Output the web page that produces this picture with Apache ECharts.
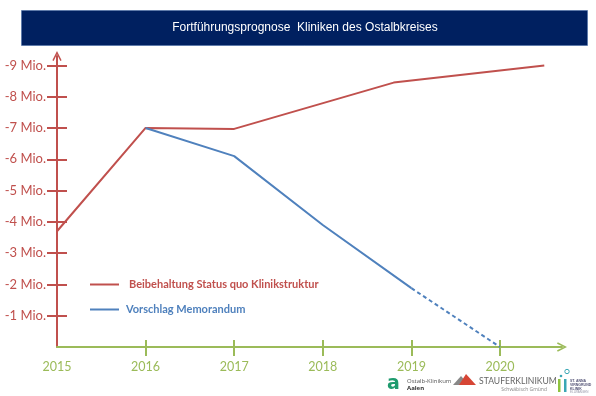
<!DOCTYPE html>
<html>
<head>
<meta charset="utf-8">
<title>Fortführungsprognose Kliniken des Ostalbkreises</title>
<script src="https://cdn.jsdelivr.net/npm/echarts@6/dist/echarts.min.js"></script>
<style>
  html,body{margin:0;padding:0;background:#fff;}
  #chart{width:596px;height:396px;}
</style>
</head>
<body>
<div id="chart"></div>
<script>
// Werte in Mio. Euro (Defizit negativ), x = Jahr
const redYears = [2015, 2016, 2017, 2018.8, 2020.5]
const redValues = [-3.7, -7.0, -6.97, -8.45, -9.0]
const blueYears = [2016, 2017, 2018, 2019, 2020]
const blueValues = [-7.0, -6.1, -3.9, -1.88, 0]
const xTickYears = [2016, 2017, 2018, 2019, 2020]
const xLabelYears = [2015, 2016, 2017, 2018, 2019, 2020]
const yTicks = [-9, -8, -7, -6, -5, -4, -3, -2, -1]
const seriesNames = ['Beibehaltung Status quo Klinikstruktur', 'Vorschlag Memorandum']
const titleText = 'Fortführungsprognose  Kliniken des Ostalbkreises'

const RED = '#c0504d'
const BLUE = '#4f81bd'
const GREEN = '#9bbb59'
const NAVY = '#002060'
const FONT = 'Lato, "Open Sans", sans-serif'
const ARROW = 'path://M0,10 L5,0 L10,10 L8.6,10.8 L5,3.4 L1.4,10.8 Z'

const pairs = (xs, ys) => xs.map((x, i) => [x, ys[i]])
const blueAll = pairs(blueYears, blueValues)
// letzter Abschnitt 2019 -> 2020 gestrichelt
const blueSolid = blueAll.slice(0, 4)
const blueDashed = blueAll.slice(3)

const xBase = {
  type: 'value',
  min: 2015,
  max: 2020.7,
  position: 'bottom',
  splitLine: { show: false }
}
const yBase = {
  type: 'value',
  min: -9.3,
  max: 0,
  inverse: true,
  position: 'left',
  splitLine: { show: false }
}

const chart = echarts.init(document.getElementById('chart'))
const option = {
  animation: false,
  grid: { left: 57, right: 34, top: 56, bottom: 49 },
  legend: {
    orient: 'vertical',
    left: 90,
    top: 279,
    padding: 0,
    itemWidth: 29,
    itemHeight: 2,
    itemGap: 14,
    icon: 'rect',
    selectedMode: false,
    textStyle: { fontFamily: FONT, fontSize: 11, fontWeight: 'bold' },
    data: [
      { name: seriesNames[0], textStyle: { color: RED, padding: [0, 0, 0, 5] } },
      { name: seriesNames[1], textStyle: { color: BLUE, padding: [0, 0, 0, 2] } }
    ]
  },
  xAxis: [
    {
      ...xBase,
      axisLine: {
        onZero: false,
        lineStyle: { color: GREEN, width: 2 },
        symbol: ['none', ARROW],
        symbolSize: [10, 10]
      },
      axisTick: { customValues: xTickYears, length: 9, lineStyle: { color: GREEN, width: 2 } },
      axisLabel: {
        customValues: xLabelYears,
        color: GREEN,
        fontFamily: FONT,
        fontSize: 12.5,
        margin: 13,
        formatter: v => String(v)
      }
    },
    {
      ...xBase,
      axisLine: { show: false, onZero: false },
      axisTick: { customValues: xTickYears, inside: true, length: 7, lineStyle: { color: GREEN, width: 2 } },
      axisLabel: { show: false }
    }
  ],
  yAxis: [
    {
      ...yBase,
      axisLine: {
        onZero: false,
        lineStyle: { color: RED, width: 2 },
        symbol: ['none', ARROW],
        symbolSize: [10, 10]
      },
      axisTick: { customValues: yTicks, length: 10, lineStyle: { color: RED, width: 2 } },
      axisLabel: {
        customValues: yTicks,
        color: RED,
        fontFamily: FONT,
        fontSize: 13,
        margin: 11,
        padding: [0, 0, 5, 0],
        formatter: v => v + ' Mio.'
      }
    },
    {
      ...yBase,
      axisLine: { show: false, onZero: false },
      axisTick: { customValues: yTicks, inside: true, length: 10, lineStyle: { color: RED, width: 2 } },
      axisLabel: { show: false }
    }
  ],
  series: [
    {
      name: seriesNames[0],
      type: 'line',
      data: pairs(redYears, redValues),
      symbol: 'none',
      color: RED,
      lineStyle: { color: RED, width: 2 }
    },
    {
      name: seriesNames[1],
      type: 'line',
      data: blueSolid,
      symbol: 'none',
      color: BLUE,
      lineStyle: { color: BLUE, width: 2 },
      z: 3
    },
    {
      name: seriesNames[1],
      type: 'line',
      data: blueDashed,
      symbol: 'none',
      color: BLUE,
      lineStyle: { color: BLUE, width: 2, type: [4, 3] },
      z: 3
    }
  ],
  graphic: [
    // Titelbalken
    {
      type: 'rect',
      shape: { x: 21.5, y: 10.5, width: 566, height: 35 },
      style: { fill: NAVY, stroke: '#4a6ea8', lineWidth: 0.6 }
    },
    {
      type: 'text',
      x: 305, y: 28,
      style: {
        text: titleText, fill: '#fff', font: '12px "Liberation Sans", Arial, sans-serif',
        align: 'center', verticalAlign: 'middle', textAlign: 'center', textVerticalAlign: 'middle'
      }
    },
    // Logos unten rechts
    {
      type: 'text', x: 393.5, y: 384,
      style: {
        text: 'a', fill: '#1f9b6e', font: 'bold 19px "DejaVu Sans", sans-serif',
        align: 'center', verticalAlign: 'middle', textAlign: 'center', textVerticalAlign: 'middle'
      }
    },
    {
      type: 'text', x: 407, y: 381,
      style: { text: 'Ostalb-Klinikum', fill: '#555', font: '6px "Open Sans", sans-serif', verticalAlign: 'middle', textVerticalAlign: 'middle' }
    },
    {
      type: 'text', x: 407, y: 388.5,
      style: { text: 'Aalen', fill: '#333', font: 'bold 6px "Open Sans", sans-serif', verticalAlign: 'middle', textVerticalAlign: 'middle' }
    },
    {
      type: 'polygon',
      shape: { points: [[453, 385], [461, 376], [469, 385]] },
      style: { fill: '#888' }
    },
    {
      type: 'polygon',
      shape: { points: [[459, 385], [466, 374], [476, 385]] },
      style: { fill: '#d64535' }
    },
    {
      type: 'text', x: 479, y: 381.5,
      style: { text: 'STAUFERKLINIKUM', fill: '#666', font: '8.6px Lato, sans-serif', verticalAlign: 'middle', textVerticalAlign: 'middle' }
    },
    {
      type: 'text', x: 547, y: 389.5,
      style: {
        text: 'Schwäbisch Gmünd', fill: '#888', font: '5px "Open Sans", sans-serif',
        align: 'right', verticalAlign: 'middle', textAlign: 'right', textVerticalAlign: 'middle'
      }
    },
    {
      type: 'circle', shape: { cx: 567, cy: 371.5, r: 2.2 },
      style: { fill: 'none', stroke: '#3aa7b5', lineWidth: 1 }
    },
    {
      type: 'circle', shape: { cx: 561, cy: 376, r: 1.3 },
      style: { fill: '#3aa7b5' }
    },
    {
      type: 'rect', shape: { x: 558, y: 379, width: 2.5, height: 13 },
      style: { fill: '#8fc33f' }
    },
    {
      type: 'rect', shape: { x: 564, y: 379, width: 2.5, height: 13 },
      style: { fill: '#3aa7b5' }
    },
    {
      type: 'text', x: 570, y: 379,
      style: { text: 'ST. ANNA\nVIRNGRUND\nKLINIK', fill: '#557', font: 'bold 3.5px sans-serif', lineHeight: 4 }
    },
    {
      type: 'text', x: 570, y: 391,
      style: { text: 'ELLWANGEN', fill: '#99a', font: '3px sans-serif' }
    }
  ]
}
chart.setOption(option)
</script>
</body>
</html>
